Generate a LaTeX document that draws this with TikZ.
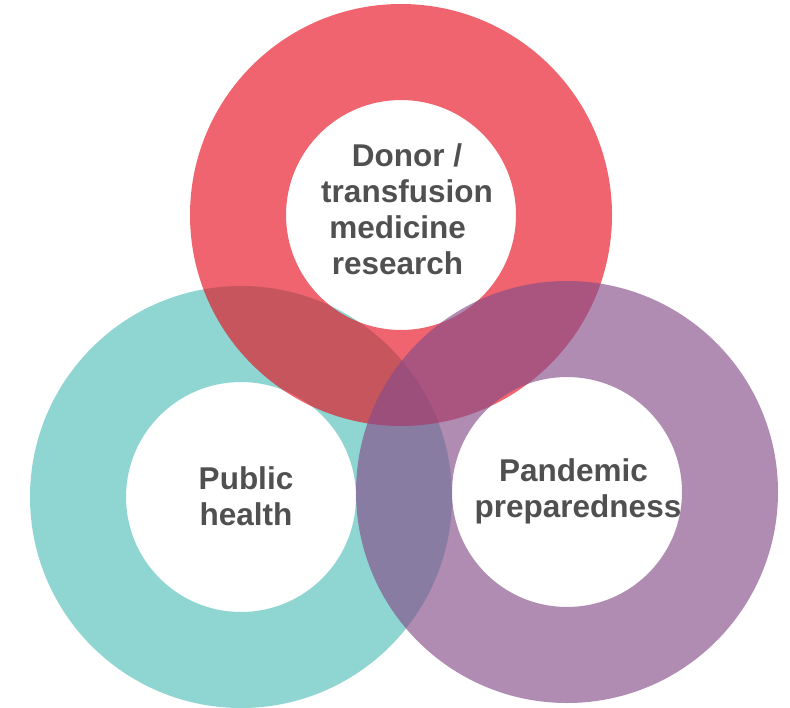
\documentclass[tikz,border=0pt]{standalone}
\usepackage{fontspec}
\setmainfont{Liberation Sans}
\usepackage{tikz}
\definecolor{donorred}{RGB}{231,11,26}
\definecolor{healthteal}{RGB}{143,214,210}
\definecolor{pandemicpurple}{RGB}{134,77,138}
\definecolor{textgray}{RGB}{80,80,80}

\begin{document}
\begin{tikzpicture}[x=1pt, y=-1pt,
        ring/.style={even odd rule},
        ringtext/.style={align=center, inner sep=0pt, text=textgray,
                font=\fontsize{31.5}{36}\selectfont\bfseries}]

        %page
        \fill[white] (0,0) rectangle (790,707);
        \useasboundingbox (0,0) rectangle (790,707);

        %coordinates
        \coordinate (H) at (241,497); % public health
        \coordinate (D) at (401,215); % donor / transfusion
        \coordinate (P) at (567,492); % pandemic

        %rings
        \fill[ring, healthteal] (H) circle (211) (H) circle (115);
        \fill[ring, donorred, fill opacity=0.63] (D) circle (211) (D) circle (115);
        \fill[ring, pandemicpurple, fill opacity=0.65] (P) circle (211) (P) circle (115);

        %labels
        \node[ringtext] (donor) at (407,209) {Donor /\\ transfusion\\ medicine\makebox[0.6em]{}\\ research\makebox[0.6em]{}};
        \node[ringtext] (health) at (246,496) {Public\\ health};
        \node[ringtext] (pandemic) at (578,491) {Pandemic\makebox[0.28em]{}\\ preparedness};

\end{tikzpicture}
\end{document}
